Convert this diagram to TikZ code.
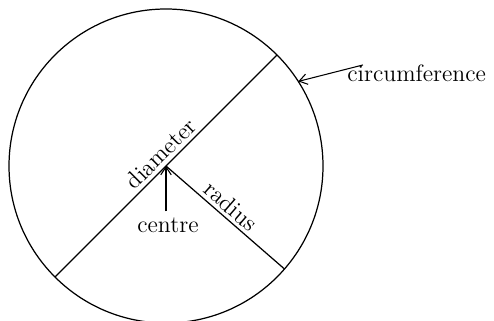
\documentclass[tikz,border=0pt]{standalone}
\usepackage{tikz}
\usetikzlibrary{arrows.meta,positioning,calc}

\begin{document}
\begin{tikzpicture}[x=0.02cm,y=0.02cm,
  every node/.style={font=\fontsize{13.5}{16}\selectfont},
  line/.style={line width=0.7pt},
  pointer/.style={line width=0.6pt,-{Straight Barb[length=4.5pt,width=6pt]}}]
\useasboundingbox (0,0) rectangle (494,321);
% Draw circle with centre O
\coordinate (O) at (166,155);
\draw[line] (O) circle (157);

% Diameter and radius
\coordinate (A) at ($(O)+(225:157)$);
\coordinate (B) at ($(O)+(45:157)$);
\coordinate (R) at ($(O)+(-41:157)$);
\draw[line] (A) -- (B) node[pos=0.516,sloped,above,inner sep=2pt] (diam) {diameter};
\draw[line] (O) -- (R) node[pos=0.48,sloped,above,inner sep=2pt] (rad) {radius};

% Labels with pointers
\node (ctr) at (168,96) {centre};
\draw[pointer] (ctr.north -| O) -- (O);

\node[anchor=base west,inner sep=0pt] (circ) at (347,239) {circumference};
\coordinate (P) at ($(O)+(32.6:157)$);
\draw[pointer] ($(circ.north west)+(16,0)$) -- (P);
\end{tikzpicture}
\end{document}
